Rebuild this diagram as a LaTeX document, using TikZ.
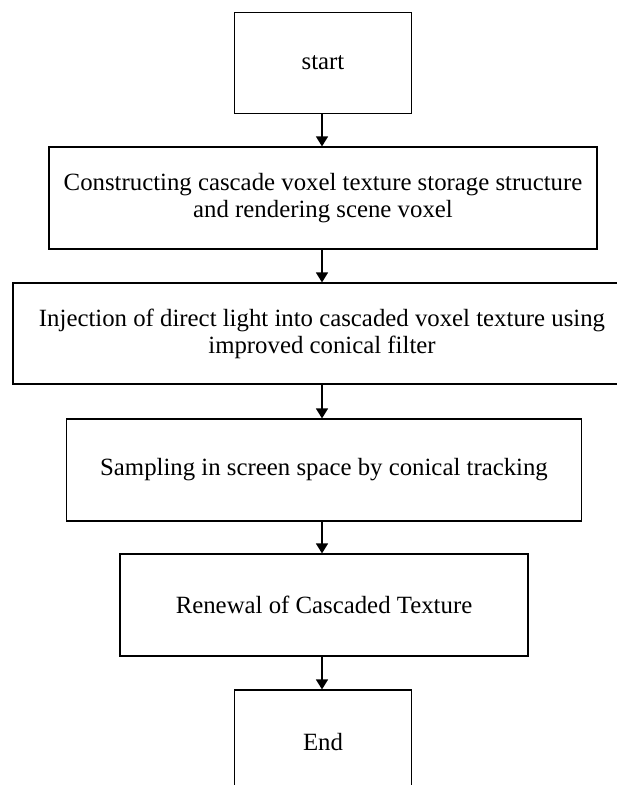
\documentclass[tikz,border=0pt]{standalone}
\usepackage{fontspec}
\setmainfont{Liberation Serif}
\usetikzlibrary{arrows.meta}
\begin{document}
\begin{tikzpicture}[x=1pt,y=1pt,
		box/.style={draw,line width=1.2pt,inner sep=0pt,align=center,minimum height=101pt,
			font=\fontsize{24.8}{27}\selectfont},
		flow/.style={-{Triangle[width=12pt,length=10pt]},line width=1.4pt}]
			\useasboundingbox (0,0) rectangle (617,-785);
			\node (St) at (323,-63)    [box,minimum width=177pt] {start};
			\node (Cv) at (323,-198)   [box,minimum width=548pt,minimum height=102pt] {Constructing cascade voxel texture storage structure\\and rendering scene voxel};
			\node (In) at (322,-333.5) [box,minimum width=618pt] {Injection of direct light into cascaded voxel texture using\\improved conical filter};
			\node (Sa) at (324,-470)   [box,minimum width=515pt,minimum height=102pt] {Sampling in screen space by conical tracking};
			\node (Re) at (324,-605)   [box,minimum width=408pt,minimum height=102pt] {Renewal of Cascaded Texture};
			\node (En) at (323,-742)   [box,minimum width=177pt,minimum height=104pt] {End};
			\draw[flow] (St.south -| 322,0) -- (Cv.north -| 322,0);
			\draw[flow] (Cv.south -| 322,0) -- (In.north -| 322,0);
			\draw[flow] (In.south -| 322,0) -- (Sa.north -| 322,0);
			\draw[flow] (Sa.south -| 322,0) -- (Re.north -| 322,0);
			\draw[flow] (Re.south -| 322,0) -- (En.north -| 322,0);
		\end{tikzpicture}
\end{document}
